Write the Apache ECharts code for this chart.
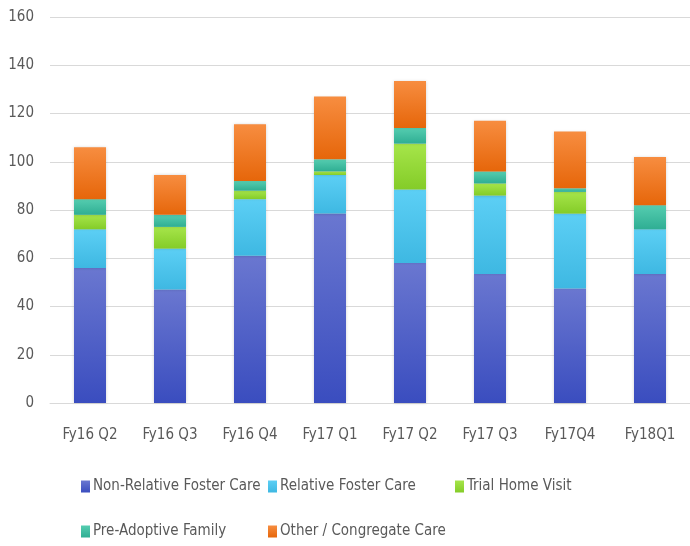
<!DOCTYPE html>
<html>
<head>
<meta charset="utf-8">
<script src="https://cdn.jsdelivr.net/npm/echarts@6/dist/echarts.min.js"></script>
<style>
html,body{margin:0;padding:0;background:#fff;}
#chart{width:690px;height:546px;}
</style>
</head>
<body>
<div id="chart"></div>
<script>
const categories = ['Fy16 Q2','Fy16 Q3','Fy16 Q4','Fy17 Q1','Fy17 Q2','Fy17 Q3','Fy17Q4','Fy18Q1'];
const seriesNames = ['Non-Relative Foster Care','Relative Foster Care','Trial Home Visit','Pre-Adoptive Family','Other / Congregate Care'];
const nonRelative = [56, 47, 61, 78.5, 58, 53.5, 47.5, 53.5];
const relative = [16, 17, 23.5, 16, 30.5, 32.5, 31, 18.5];
const trialHome = [6, 9, 3.5, 1.5, 19, 5, 9, 0];
const preAdoptive = [6.5, 5, 4, 5, 6.5, 5, 1.5, 10];
const otherCongregate = [21.5, 16.5, 23.5, 26, 19.5, 21, 23.5, 20];
const yTicks = [0, 20, 40, 60, 80, 100, 120, 140, 160];

const FONT = "'DejaVu Sans Condensed', 'Liberation Sans', sans-serif";
const TXT = '#595959';

function grad(top, bottom) {
  return new echarts.graphic.LinearGradient(0, 0, 0, 1, [
    {offset: 0, color: top}, {offset: 1, color: bottom}
  ]);
}
const colors = [
  ['#6a77d0', '#3a4dbf'],
  ['#5ccff5', '#3eb8e2'],
  ['#a6e54a', '#84cc28'],
  ['#55cdb0', '#2fae93'],
  ['#f78d40', '#e6660a']
];
const solid = ['#4456c8', '#4cc6ef', '#92db3a', '#44c2a2', '#ef7820'];
const data = [nonRelative, relative, trialHome, preAdoptive, otherCongregate];

const legendLeft = [81, 268, 455, 81, 268];
const legendTop = [479, 479, 479, 524, 524];

const chart = echarts.init(document.getElementById('chart'), null, {renderer: 'canvas'});
chart.setOption({
  animation: false,
  color: solid,
  grid: {left: 50, right: 0, top: 17, bottom: 143, containLabel: false},
  legend: seriesNames.map((n, i) => ({
    data: [n],
    left: legendLeft[i],
    top: legendTop[i],
    icon: 'rect',
    itemWidth: 9,
    itemHeight: 12,
    padding: 0,
    textStyle: {color: TXT, fontSize: 15, fontFamily: FONT, padding: [0, 0, 0, -2]}
  })),
  xAxis: {
    type: 'category',
    data: categories,
    axisLine: {show: true, lineStyle: {color: '#d9d9d9'}},
    axisTick: {show: false},
    axisLabel: {color: TXT, fontSize: 15, fontFamily: FONT, margin: 25, interval: 0}
  },
  yAxis: {
    type: 'value',
    min: yTicks[0],
    max: yTicks[yTicks.length - 1],
    interval: 20,
    axisLine: {show: false},
    axisTick: {show: false},
    splitLine: {lineStyle: {color: '#d9d9d9', width: 1}},
    axisLabel: {color: TXT, fontSize: 15, fontFamily: FONT, margin: 16}
  },
  series: seriesNames.map((n, i) => ({
    name: n,
    type: 'bar',
    stack: 'total',
    barWidth: '40%',
    data: data[i],
    itemStyle: {
      color: grad(colors[i][0], colors[i][1]),
      shadowColor: 'rgba(0,0,0,0.18)',
      shadowBlur: 3
    }
  }))
});
</script>
</body>
</html>
